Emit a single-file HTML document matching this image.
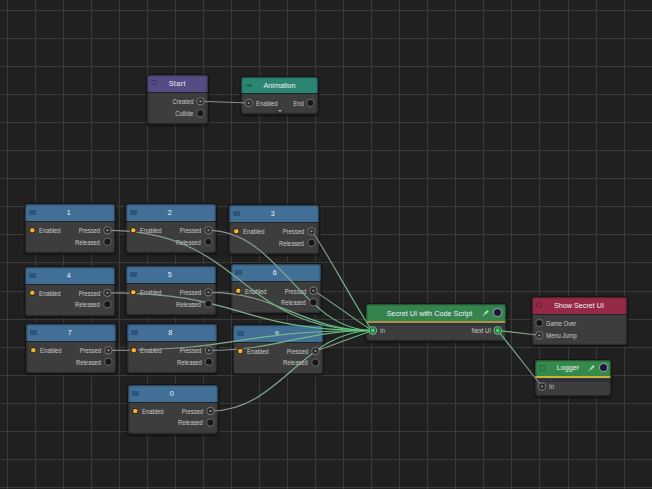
<!DOCTYPE html>
<html><head><meta charset="utf-8"><style>
html,body{margin:0;padding:0;background:#202020;width:652px;height:489px;overflow:hidden}
body{position:relative;font-family:"Liberation Sans", sans-serif}
svg{position:absolute;left:0;top:0}
.grid line{stroke:#3a3a3a;stroke-width:1}
.node{position:absolute;background:#3d3d3d;border-radius:3px;box-shadow:0 0 0 1px #151515,0 1px 2px 1px rgba(0,0,0,.45)}
.node:after{content:"";position:absolute;left:0;top:0;right:0;bottom:0;border-radius:3px;box-shadow:inset 0 0 0 1.3px rgba(22,22,22,.45);pointer-events:none}
.hdr{position:absolute;left:0;top:0;right:0;border-radius:3px 3px 0 0;border-bottom:1.2px solid #1e2328}
.key{background:#426f96}
.kicon{position:absolute;left:4px;top:6px;width:7px;height:5px;background:#2d557a}
.title{position:absolute;left:0;right:0;top:0;text-align:center;color:#eef2f6;font-size:7.2px;white-space:nowrap}
.lbl{position:absolute;height:10px;line-height:10px;font-size:6.6px;color:#c9c9c9;white-space:nowrap;transform:scaleX(.89)}
.lbl.l{transform-origin:0 50%}
.lbl.r{transform-origin:100% 50%}
.ring{position:absolute;width:4px;height:4px;border:1.3px solid;border-radius:50%}
.arrow{position:absolute;left:6px;top:0;line-height:16px;font-size:8px;color:#1f6e5a}
.drop{position:absolute;left:34px;top:32px;width:10px;height:5px;background:#383838;border-radius:3px 3px 0 0}
.drop:after{content:"";position:absolute;left:2.8px;top:1.2px;border-left:2.2px solid transparent;border-right:2.2px solid transparent;border-top:2.8px solid #a8a8a8}
.pencil{position:absolute;width:1.6px;height:6px;background:#9fd2a8;transform:rotate(45deg)}
.dot{position:absolute;width:7px;height:7px;border-radius:50%;background:#1c1a3a;box-shadow:0 0 0 1px #8fa0a8}
.band{position:absolute;left:0;right:0}
.pic{position:absolute;overflow:visible}
.sq{position:absolute;left:4.7px;top:5.8px;width:5.6px;height:6px;border:1.1px solid #2a6a3e;box-sizing:border-box}
</style></head><body>
<svg class="grid" width="652" height="489"><line x1="7.50" y1="0" x2="7.50" y2="489"/><line x1="35.50" y1="0" x2="35.50" y2="489"/><line x1="63.50" y1="0" x2="63.50" y2="489"/><line x1="91.50" y1="0" x2="91.50" y2="489"/><line x1="119.50" y1="0" x2="119.50" y2="489"/><line x1="147.50" y1="0" x2="147.50" y2="489"/><line x1="175.50" y1="0" x2="175.50" y2="489"/><line x1="203.50" y1="0" x2="203.50" y2="489"/><line x1="231.50" y1="0" x2="231.50" y2="489"/><line x1="259.50" y1="0" x2="259.50" y2="489"/><line x1="287.50" y1="0" x2="287.50" y2="489"/><line x1="315.50" y1="0" x2="315.50" y2="489"/><line x1="343.50" y1="0" x2="343.50" y2="489"/><line x1="371.50" y1="0" x2="371.50" y2="489"/><line x1="399.50" y1="0" x2="399.50" y2="489"/><line x1="427.50" y1="0" x2="427.50" y2="489"/><line x1="455.50" y1="0" x2="455.50" y2="489"/><line x1="483.50" y1="0" x2="483.50" y2="489"/><line x1="511.50" y1="0" x2="511.50" y2="489"/><line x1="539.50" y1="0" x2="539.50" y2="489"/><line x1="568.50" y1="0" x2="568.50" y2="489"/><line x1="596.50" y1="0" x2="596.50" y2="489"/><line x1="624.50" y1="0" x2="624.50" y2="489"/><line x1="652.50" y1="0" x2="652.50" y2="489"/><line x1="0" y1="10.50" x2="652" y2="10.50"/><line x1="0" y1="38.50" x2="652" y2="38.50"/><line x1="0" y1="66.50" x2="652" y2="66.50"/><line x1="0" y1="94.50" x2="652" y2="94.50"/><line x1="0" y1="122.50" x2="652" y2="122.50"/><line x1="0" y1="150.50" x2="652" y2="150.50"/><line x1="0" y1="178.50" x2="652" y2="178.50"/><line x1="0" y1="206.50" x2="652" y2="206.50"/><line x1="0" y1="234.50" x2="652" y2="234.50"/><line x1="0" y1="262.50" x2="652" y2="262.50"/><line x1="0" y1="291.50" x2="652" y2="291.50"/><line x1="0" y1="319.50" x2="652" y2="319.50"/><line x1="0" y1="347.50" x2="652" y2="347.50"/><line x1="0" y1="375.50" x2="652" y2="375.50"/><line x1="0" y1="403.50" x2="652" y2="403.50"/><line x1="0" y1="431.50" x2="652" y2="431.50"/><line x1="0" y1="459.50" x2="652" y2="459.50"/><line x1="0" y1="487.50" x2="652" y2="487.50"/></svg>
<div class="node" style="left:25px;top:204px;width:90px;height:49px"><div class="hdr key" style="height:17px"><div class="kicon"></div><div class="title" style="line-height:17px;padding-right:2.4px">1</div></div><div class="lbl l" style="left:13.6px;top:22.200000000000003px">Enabled</div><div class="lbl r" style="right:15px;top:22.200000000000003px">Pressed</div><div class="lbl r" style="right:15px;top:33.699999999999996px">Released</div></div><div class="node" style="left:126px;top:204px;width:90px;height:49px"><div class="hdr key" style="height:17px"><div class="kicon"></div><div class="title" style="line-height:17px;padding-right:2.4px">2</div></div><div class="lbl l" style="left:13.6px;top:22.200000000000003px">Enabled</div><div class="lbl r" style="right:15px;top:22.200000000000003px">Pressed</div><div class="lbl r" style="right:15px;top:33.699999999999996px">Released</div></div><div class="node" style="left:229px;top:205px;width:90px;height:49px"><div class="hdr key" style="height:17px"><div class="kicon"></div><div class="title" style="line-height:17px;padding-right:2.4px">3</div></div><div class="lbl l" style="left:13.6px;top:22.200000000000003px">Enabled</div><div class="lbl r" style="right:15px;top:22.200000000000003px">Pressed</div><div class="lbl r" style="right:15px;top:33.699999999999996px">Released</div></div><div class="node" style="left:25px;top:266.5px;width:90px;height:49px"><div class="hdr key" style="height:17px"><div class="kicon"></div><div class="title" style="line-height:17px;padding-right:2.4px">4</div></div><div class="lbl l" style="left:13.6px;top:22.200000000000003px">Enabled</div><div class="lbl r" style="right:15px;top:22.200000000000003px">Pressed</div><div class="lbl r" style="right:15px;top:33.699999999999996px">Released</div></div><div class="node" style="left:126px;top:266px;width:90px;height:49px"><div class="hdr key" style="height:17px"><div class="kicon"></div><div class="title" style="line-height:17px;padding-right:2.4px">5</div></div><div class="lbl l" style="left:13.6px;top:22.200000000000003px">Enabled</div><div class="lbl r" style="right:15px;top:22.200000000000003px">Pressed</div><div class="lbl r" style="right:15px;top:33.699999999999996px">Released</div></div><div class="node" style="left:231px;top:264.4px;width:90px;height:49px"><div class="hdr key" style="height:17px"><div class="kicon"></div><div class="title" style="line-height:17px;padding-right:2.4px">6</div></div><div class="lbl l" style="left:13.6px;top:22.200000000000003px">Enabled</div><div class="lbl r" style="right:15px;top:22.200000000000003px">Pressed</div><div class="lbl r" style="right:15px;top:33.699999999999996px">Released</div></div><div class="node" style="left:26px;top:324px;width:90px;height:49px"><div class="hdr key" style="height:17px"><div class="kicon"></div><div class="title" style="line-height:17px;padding-right:2.4px">7</div></div><div class="lbl l" style="left:13.6px;top:22.200000000000003px">Enabled</div><div class="lbl r" style="right:15px;top:22.200000000000003px">Pressed</div><div class="lbl r" style="right:15px;top:33.699999999999996px">Released</div></div><div class="node" style="left:126.5px;top:324px;width:90px;height:49px"><div class="hdr key" style="height:17px"><div class="kicon"></div><div class="title" style="line-height:17px;padding-right:2.4px">8</div></div><div class="lbl l" style="left:13.6px;top:22.200000000000003px">Enabled</div><div class="lbl r" style="right:15px;top:22.200000000000003px">Pressed</div><div class="lbl r" style="right:15px;top:33.699999999999996px">Released</div></div><div class="node" style="left:233px;top:324.8px;width:90px;height:49px"><div class="hdr key" style="height:17px"><div class="kicon"></div><div class="title" style="line-height:17px;padding-right:2.4px">9</div></div><div class="lbl l" style="left:13.6px;top:22.200000000000003px">Enabled</div><div class="lbl r" style="right:15px;top:22.200000000000003px">Pressed</div><div class="lbl r" style="right:15px;top:33.699999999999996px">Released</div></div><div class="node" style="left:128px;top:384.7px;width:90px;height:49px"><div class="hdr key" style="height:17px"><div class="kicon"></div><div class="title" style="line-height:17px;padding-right:2.4px">0</div></div><div class="lbl l" style="left:13.6px;top:22.200000000000003px">Enabled</div><div class="lbl r" style="right:15px;top:22.200000000000003px">Pressed</div><div class="lbl r" style="right:15px;top:33.699999999999996px">Released</div></div><div class="node" style="left:147px;top:75px;width:61px;height:49px"><div class="hdr" style="height:17px;background:#564c84"><div class="ring" style="left:4.3px;top:4.8px;width:3.4px;height:3.4px;border-width:1.6px;border-color:#372e6c"></div><div class="title" style="line-height:17px;letter-spacing:.45px;padding-right:.3px">Start</div></div><div class="lbl r" style="right:15px;top:22.200000000000003px">Created</div><div class="lbl r" style="right:15px;top:34.199999999999996px">Collide</div></div><div class="node" style="left:241px;top:77px;width:77px;height:37px"><div class="hdr" style="height:16px;background:#2a8672"><svg class="pic" style="left:0;top:0" width="16" height="16"><path d="M4.8,8.4 H9.8" stroke="#1c5e4c" stroke-width="1.4"/><path d="M8.6,6.2 L11.8,8.4 L8.6,10.6 Z" fill="#1c5e4c"/></svg><div class="title" style="line-height:16px;top:0.5px">Animation</div></div><div class="lbl l" style="left:15px;top:21.9px">Enabled</div><div class="lbl r" style="right:14px;top:21.9px">End</div><div class="drop"></div></div><div class="node" style="left:365.5px;top:304px;width:140px;height:37px"><div class="hdr" style="height:16.7px;background:#35844e;border-bottom:2.6px solid #b88e44"><div class="title" style="line-height:16.7px;top:1.6px;left:0;right:12px;font-size:7.3px">Secret UI with Code Script</div><svg class="pic" style="left:112.7px;top:1.6px" width="15" height="15"><path d="M6.6,8.1 L10.1,4.6" stroke="#b0e0b8" stroke-width="2" stroke-linecap="butt"/><path d="M4.9,9.8 L6.1,8.6" stroke="#a0d4a8" stroke-width="1.3"/></svg><div class="dot" style="left:128.5px;top:5.2px"></div></div><div class="band" style="top:19.3px;height:2.6px;background:#2b383c"></div><div class="lbl l" style="left:14.5px;top:22.4px">In</div><div class="lbl r" style="right:15px;top:22.4px">Next UI</div></div><div class="node" style="left:532px;top:297px;width:95px;height:48px"><div class="hdr" style="height:17px;background:#952a46"><div class="ring" style="left:4.2px;top:5.4px;border-color:#6e1c32"></div><div class="title" style="line-height:17px;padding-right:1px">Show Secret UI</div></div><div class="lbl l" style="left:14px;top:21.9px">Game Over</div><div class="lbl l" style="left:14px;top:34.199999999999996px">Menu Jump</div></div><div class="node" style="left:535px;top:359.5px;width:76px;height:36px"><div class="hdr" style="height:16.5px;background:#35894b;border-bottom:2.4px solid #c8b43a"><div class="sq"></div><div class="title" style="line-height:16.5px;top:0.8px;left:0;right:10px">Logger</div><svg class="pic" style="left:49.1px;top:1.1px" width="15" height="15"><path d="M6.6,8.1 L10.1,4.6" stroke="#b0e0b8" stroke-width="2" stroke-linecap="butt"/><path d="M4.9,9.8 L6.1,8.6" stroke="#a0d4a8" stroke-width="1.3"/></svg><div class="dot" style="left:65.4px;top:4.9px"></div></div><div class="band" style="top:19px;height:3px;background:#302f3c"></div><div class="lbl l" style="left:14px;top:22.9px">In</div></div>
<svg width="652" height="489"><defs></defs><linearGradient id="g0" gradientUnits="userSpaceOnUse" x1="200.4" y1="101.3" x2="248.8" y2="103"><stop offset="0" stop-color="#8e8e8e"/><stop offset="0.5" stop-color="#8e8e8e"/><stop offset="1" stop-color="#8e8e8e"/></linearGradient><path d="M200.4,101.3 C200.4,101.3 248.8,103 248.8,103" stroke="url(#g0)" stroke-width="1.15" fill="none" opacity="1"/><linearGradient id="g1" gradientUnits="userSpaceOnUse" x1="107.4" y1="230.3" x2="372.8" y2="330.5"><stop offset="0" stop-color="#8e8e8e"/><stop offset="0.5" stop-color="#7fb290"/><stop offset="1" stop-color="#58c47a"/></linearGradient><path d="M107.4,230.3 C244.16,230.3 236.04000000000002,330.5 372.8,330.5" stroke="url(#g1)" stroke-width="1.15" fill="none" opacity="1"/><linearGradient id="g2" gradientUnits="userSpaceOnUse" x1="208.4" y1="230.3" x2="372.8" y2="330.5"><stop offset="0" stop-color="#8e8e8e"/><stop offset="0.5" stop-color="#7fb290"/><stop offset="1" stop-color="#58c47a"/></linearGradient><path d="M208.4,230.3 C279.51,230.3 301.69,330.5 372.8,330.5" stroke="url(#g2)" stroke-width="1.15" fill="none" opacity="1"/><linearGradient id="g3" gradientUnits="userSpaceOnUse" x1="311.4" y1="231.3" x2="372.8" y2="330.5"><stop offset="0" stop-color="#8e8e8e"/><stop offset="0.5" stop-color="#7fb290"/><stop offset="1" stop-color="#58c47a"/></linearGradient><path d="M311.4,231.3 C315.56,231.3 368.64,330.5 372.8,330.5" stroke="url(#g3)" stroke-width="1.15" fill="none" opacity="1"/><linearGradient id="g4" gradientUnits="userSpaceOnUse" x1="107.4" y1="292.8" x2="372.8" y2="330.5"><stop offset="0" stop-color="#8e8e8e"/><stop offset="0.5" stop-color="#7fb290"/><stop offset="1" stop-color="#58c47a"/></linearGradient><path d="M107.4,292.8 C244.16,292.8 236.04000000000002,330.5 372.8,330.5" stroke="url(#g4)" stroke-width="1.15" fill="none" opacity="1"/><linearGradient id="g5" gradientUnits="userSpaceOnUse" x1="208.4" y1="292.3" x2="372.8" y2="330.5"><stop offset="0" stop-color="#8e8e8e"/><stop offset="0.5" stop-color="#7fb290"/><stop offset="1" stop-color="#58c47a"/></linearGradient><path d="M208.4,292.3 C279.51,292.3 301.69,330.5 372.8,330.5" stroke="url(#g5)" stroke-width="1.15" fill="none" opacity="1"/><linearGradient id="g6" gradientUnits="userSpaceOnUse" x1="313.4" y1="290.7" x2="372.8" y2="330.5"><stop offset="0" stop-color="#8e8e8e"/><stop offset="0.5" stop-color="#7fb290"/><stop offset="1" stop-color="#58c47a"/></linearGradient><path d="M313.4,290.7 C316.26,290.7 369.94,330.5 372.8,330.5" stroke="url(#g6)" stroke-width="1.15" fill="none" opacity="1"/><linearGradient id="g7" gradientUnits="userSpaceOnUse" x1="108.4" y1="350.3" x2="372.8" y2="330.5"><stop offset="0" stop-color="#8e8e8e"/><stop offset="0.5" stop-color="#7fb290"/><stop offset="1" stop-color="#58c47a"/></linearGradient><path d="M108.4,350.3 C244.51,350.3 236.69000000000003,330.5 372.8,330.5" stroke="url(#g7)" stroke-width="1.15" fill="none" opacity="1"/><linearGradient id="g8" gradientUnits="userSpaceOnUse" x1="208.9" y1="350.3" x2="372.8" y2="330.5"><stop offset="0" stop-color="#8e8e8e"/><stop offset="0.5" stop-color="#7fb290"/><stop offset="1" stop-color="#58c47a"/></linearGradient><path d="M208.9,350.3 C279.685,350.3 302.015,330.5 372.8,330.5" stroke="url(#g8)" stroke-width="1.15" fill="none" opacity="1"/><linearGradient id="g9" gradientUnits="userSpaceOnUse" x1="315.4" y1="351.1" x2="372.8" y2="330.5"><stop offset="0" stop-color="#8e8e8e"/><stop offset="0.5" stop-color="#7fb290"/><stop offset="1" stop-color="#58c47a"/></linearGradient><path d="M315.4,351.1 C316.96,351.1 371.24,330.5 372.8,330.5" stroke="url(#g9)" stroke-width="1.15" fill="none" opacity="1"/><linearGradient id="g10" gradientUnits="userSpaceOnUse" x1="210.4" y1="411.0" x2="372.8" y2="330.5"><stop offset="0" stop-color="#8e8e8e"/><stop offset="0.5" stop-color="#7fb290"/><stop offset="1" stop-color="#58c47a"/></linearGradient><path d="M210.4,411.0 C280.21000000000004,411.0 302.99,330.5 372.8,330.5" stroke="url(#g10)" stroke-width="1.15" fill="none" opacity="1"/><linearGradient id="g11" gradientUnits="userSpaceOnUse" x1="497.8" y1="330.5" x2="539.3" y2="335.3"><stop offset="0" stop-color="#62c884"/><stop offset="0.4" stop-color="#80b090"/><stop offset="1" stop-color="#8e8e8e"/></linearGradient><path d="M497.8,330.5 C497.8,330.5 539.3,335.3 539.3,335.3" stroke="url(#g11)" stroke-width="1.15" fill="none" opacity="1"/><linearGradient id="g12" gradientUnits="userSpaceOnUse" x1="497.8" y1="330.5" x2="542" y2="386.5"><stop offset="0" stop-color="#62c884"/><stop offset="0.4" stop-color="#80b090"/><stop offset="1" stop-color="#8e8e8e"/></linearGradient><path d="M497.8,330.5 C497.8,330.5 542,386.5 542,386.5" stroke="url(#g12)" stroke-width="1.15" fill="none" opacity="1"/></svg>
<svg width="652" height="489"><circle cx="32.3" cy="230.3" r="3.7" fill="#22180c" stroke="#5c5448" stroke-width="0.7"/><circle cx="32.3" cy="230.3" r="2.3" fill="#f0b23a"/><circle cx="107.4" cy="230.3" r="3.6" fill="#242424" stroke="#727272" stroke-width="1.1"/><circle cx="107.4" cy="230.3" r="1.3" fill="#808080"/><circle cx="107.4" cy="241.8" r="3.6" fill="#161616" stroke="#606060" stroke-width="1.1"/><circle cx="133.3" cy="230.3" r="3.7" fill="#22180c" stroke="#5c5448" stroke-width="0.7"/><circle cx="133.3" cy="230.3" r="2.3" fill="#f0b23a"/><circle cx="208.4" cy="230.3" r="3.6" fill="#242424" stroke="#727272" stroke-width="1.1"/><circle cx="208.4" cy="230.3" r="1.3" fill="#808080"/><circle cx="208.4" cy="241.8" r="3.6" fill="#161616" stroke="#606060" stroke-width="1.1"/><circle cx="236.3" cy="231.3" r="3.7" fill="#22180c" stroke="#5c5448" stroke-width="0.7"/><circle cx="236.3" cy="231.3" r="2.3" fill="#f0b23a"/><circle cx="311.4" cy="231.3" r="3.6" fill="#242424" stroke="#727272" stroke-width="1.1"/><circle cx="311.4" cy="231.3" r="1.3" fill="#808080"/><circle cx="311.4" cy="242.8" r="3.6" fill="#161616" stroke="#606060" stroke-width="1.1"/><circle cx="32.3" cy="292.8" r="3.7" fill="#22180c" stroke="#5c5448" stroke-width="0.7"/><circle cx="32.3" cy="292.8" r="2.3" fill="#f0b23a"/><circle cx="107.4" cy="292.8" r="3.6" fill="#242424" stroke="#727272" stroke-width="1.1"/><circle cx="107.4" cy="292.8" r="1.3" fill="#808080"/><circle cx="107.4" cy="304.3" r="3.6" fill="#161616" stroke="#606060" stroke-width="1.1"/><circle cx="133.3" cy="292.3" r="3.7" fill="#22180c" stroke="#5c5448" stroke-width="0.7"/><circle cx="133.3" cy="292.3" r="2.3" fill="#f0b23a"/><circle cx="208.4" cy="292.3" r="3.6" fill="#242424" stroke="#727272" stroke-width="1.1"/><circle cx="208.4" cy="292.3" r="1.3" fill="#808080"/><circle cx="208.4" cy="303.8" r="3.6" fill="#161616" stroke="#606060" stroke-width="1.1"/><circle cx="238.3" cy="290.7" r="3.7" fill="#22180c" stroke="#5c5448" stroke-width="0.7"/><circle cx="238.3" cy="290.7" r="2.3" fill="#f0b23a"/><circle cx="313.4" cy="290.7" r="3.6" fill="#242424" stroke="#727272" stroke-width="1.1"/><circle cx="313.4" cy="290.7" r="1.3" fill="#808080"/><circle cx="313.4" cy="302.2" r="3.6" fill="#161616" stroke="#606060" stroke-width="1.1"/><circle cx="33.3" cy="350.3" r="3.7" fill="#22180c" stroke="#5c5448" stroke-width="0.7"/><circle cx="33.3" cy="350.3" r="2.3" fill="#f0b23a"/><circle cx="108.4" cy="350.3" r="3.6" fill="#242424" stroke="#727272" stroke-width="1.1"/><circle cx="108.4" cy="350.3" r="1.3" fill="#808080"/><circle cx="108.4" cy="361.8" r="3.6" fill="#161616" stroke="#606060" stroke-width="1.1"/><circle cx="133.8" cy="350.3" r="3.7" fill="#22180c" stroke="#5c5448" stroke-width="0.7"/><circle cx="133.8" cy="350.3" r="2.3" fill="#f0b23a"/><circle cx="208.9" cy="350.3" r="3.6" fill="#242424" stroke="#727272" stroke-width="1.1"/><circle cx="208.9" cy="350.3" r="1.3" fill="#808080"/><circle cx="208.9" cy="361.8" r="3.6" fill="#161616" stroke="#606060" stroke-width="1.1"/><circle cx="240.3" cy="351.1" r="3.7" fill="#22180c" stroke="#5c5448" stroke-width="0.7"/><circle cx="240.3" cy="351.1" r="2.3" fill="#f0b23a"/><circle cx="315.4" cy="351.1" r="3.6" fill="#242424" stroke="#727272" stroke-width="1.1"/><circle cx="315.4" cy="351.1" r="1.3" fill="#808080"/><circle cx="315.4" cy="362.6" r="3.6" fill="#161616" stroke="#606060" stroke-width="1.1"/><circle cx="135.3" cy="411.0" r="3.7" fill="#22180c" stroke="#5c5448" stroke-width="0.7"/><circle cx="135.3" cy="411.0" r="2.3" fill="#f0b23a"/><circle cx="210.4" cy="411.0" r="3.6" fill="#242424" stroke="#727272" stroke-width="1.1"/><circle cx="210.4" cy="411.0" r="1.3" fill="#808080"/><circle cx="210.4" cy="422.5" r="3.6" fill="#161616" stroke="#606060" stroke-width="1.1"/><circle cx="200.4" cy="101.3" r="3.6" fill="#242424" stroke="#727272" stroke-width="1.1"/><circle cx="200.4" cy="101.3" r="1.3" fill="#808080"/><circle cx="200.4" cy="113.3" r="3.6" fill="#161616" stroke="#606060" stroke-width="1.1"/><circle cx="248.8" cy="103" r="3.6" fill="#242424" stroke="#727272" stroke-width="1.1"/><circle cx="248.8" cy="103" r="1.3" fill="#808080"/><circle cx="310.5" cy="103" r="3.6" fill="#161616" stroke="#606060" stroke-width="1.1"/><circle cx="372.8" cy="330.5" r="3.7" fill="#1d4a2a" stroke="#74c890" stroke-width="1.1"/><circle cx="372.8" cy="330.5" r="2.2" fill="#4cc872"/><circle cx="497.8" cy="330.5" r="3.7" fill="#1d4a2a" stroke="#74c890" stroke-width="1.1"/><circle cx="497.8" cy="330.5" r="2.2" fill="#4cc872"/><circle cx="539.3" cy="323" r="3.6" fill="#161616" stroke="#606060" stroke-width="1.1"/><circle cx="539.3" cy="335.3" r="3.6" fill="#242424" stroke="#727272" stroke-width="1.1"/><circle cx="539.3" cy="335.3" r="1.3" fill="#808080"/><circle cx="542" cy="386.5" r="3.6" fill="#242424" stroke="#727272" stroke-width="1.1"/><circle cx="542" cy="386.5" r="1.3" fill="#808080"/></svg>
</body></html>
